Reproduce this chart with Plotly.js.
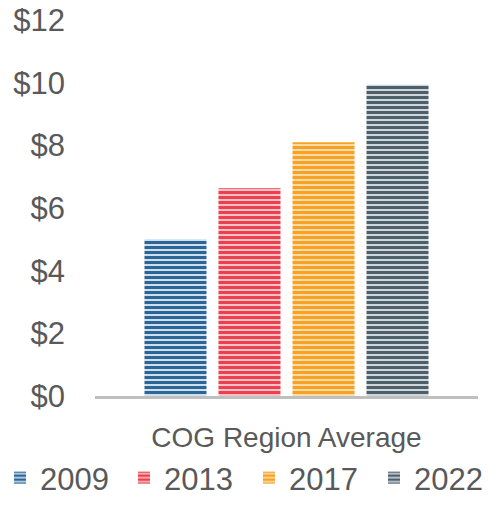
<!DOCTYPE html>
<html>
<head>
<meta charset="utf-8">
<script src="https://cdn.plot.ly/plotly-3.0.1.min.js"></script>
<style>html,body{margin:0;padding:0;background:#fff;}#chart{width:489px;height:505px;}</style>
</head>
<body>
<div id="chart"></div>
<script>
const category = ["COG Region Average"];
const years = ["2009", "2013", "2017", "2022"];
const values = [5.0, 6.63, 8.1, 9.93];
const darkColors = ["#2C6696", "#EE3F4E", "#F7A225", "#4D5F6B"];
const lightColors = ["#CFDFEC", "#F9C0C5", "#FCDBA6", "#D0D7DC"];
const legendIds = ["legend", "legend2", "legend3", "legend4"];
const legendX = [0, 124, 249, 374];

const traces = years.map((yr, i) => ({
  type: "bar",
  name: yr,
  x: category,
  y: [values[i]],
  legend: legendIds[i],
  marker: {
    color: lightColors[i],
    line: {width: 0},
    pattern: {shape: "-", fgcolor: darkColors[i], bgcolor: lightColors[i], size: 5, solidity: 0.6, fillmode: "replace"}
  },
  hoverinfo: "none"
}));

const fam = "Liberation Sans, Arial, sans-serif";
const layout = {
  width: 489, height: 505,
  margin: {l: 95, r: 11, t: 20, b: 109, autoexpand: false},
  paper_bgcolor: "#fff", plot_bgcolor: "#fff",
  barmode: "group",
  bargap: 0.227,
  bargroupgap: 0.162,
  font: {family: fam, color: "#595959"},
  showlegend: true,
  xaxis: {
    type: "category",
    showline: true, linecolor: "#BFBFBF", linewidth: 3,
    showgrid: false, zeroline: false, ticks: "",
    tickfont: {family: fam, color: "#595959", size: 28},
    ticklabelstandoff: 14
  },
  yaxis: {
    range: [0, 12], dtick: 2, tick0: 0,
    tickprefix: "$",
    showgrid: false, zeroline: false, showline: false, ticks: "",
    tickfont: {family: fam, color: "#595959", size: 31},
    ticklabelstandoff: 29
  }
};
legendIds.forEach((id, i) => {
  layout[id] = {
    orientation: "h", xref: "container", x: legendX[i] / 489, xanchor: "left",
    yref: "container", y: -0.02, yanchor: "bottom",
    bgcolor: "rgba(0,0,0,0)",
    entrywidth: 80,
    font: {family: fam, color: "#595959", size: 31}
  };
});
Plotly.newPlot("chart", traces, layout, {displayModeBar: false, staticPlot: true});
</script>
</body>
</html>
